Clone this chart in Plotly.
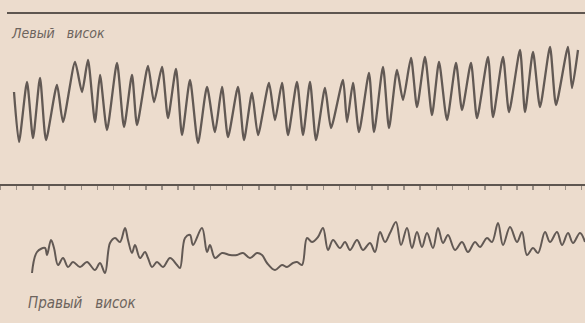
import plotly.graph_objects as go

# Left temple (top trace): time (px-scale units) and amplitude
left_t = [14, 19, 27, 33, 40, 46, 57, 63, 75, 82, 88, 95, 100, 107, 117, 124, 132, 137, 148, 154,
          162, 168, 176, 182, 190, 198, 207, 215, 222, 228, 238, 244, 252, 258, 269, 275, 282, 288,
          297, 303, 310, 316, 325, 331, 343, 347, 353, 359, 369, 374, 383, 389, 397, 403, 411, 417,
          425, 432, 439, 447, 456, 462, 471, 477, 488, 493, 503, 509, 520, 525, 533, 540, 550, 556,
          568, 572, 578]
left_y = [92, 142, 82, 138, 78, 140, 85, 122, 62, 92, 60, 122, 75, 130, 63, 127, 75, 125, 66, 102,
          67, 118, 69, 135, 80, 143, 87, 132, 87, 137, 87, 140, 93, 135, 83, 120, 83, 135,
          82, 135, 82, 140, 88, 128, 80, 122, 83, 132, 73, 132, 67, 128, 70, 100, 58, 107,
          57, 115, 62, 120, 63, 110, 63, 118, 57, 117, 57, 112, 50, 112, 52, 107, 47, 105,
          47, 88, 50]
left_amp = [100 - v for v in left_y]

# Right temple (bottom trace)
right_t = [32, 37, 45, 47, 51, 54, 58, 63, 68, 73, 80, 87, 95, 100, 105, 110, 115, 120, 125, 128,
           132, 135, 140, 145, 148, 152, 157, 163, 170, 177, 180, 185, 190, 193, 202, 207, 210, 215,
           222, 230, 237, 243, 250, 257, 262, 267, 275, 282, 287, 293, 297, 302, 307, 312, 318, 323,
           328, 333, 340, 345, 350, 357, 363, 370, 375, 380, 385, 390, 396, 401, 407, 412, 417, 422,
           427, 433, 438, 443, 448, 455, 462, 468, 475, 480, 487, 492, 498, 503, 510, 517, 522, 527,
           533, 538, 545, 550, 557, 562, 568, 573, 580, 585]
right_y = [273, 252, 248, 255, 240, 248, 265, 258, 267, 262, 267, 262, 270, 263, 273, 243, 238, 242, 228, 240,
           253, 245, 258, 252, 258, 267, 262, 267, 258, 265, 268, 238, 235, 245, 228, 252, 245, 258,
           253, 255, 255, 253, 258, 253, 255, 263, 270, 265, 267, 263, 262, 265, 238, 242, 237, 228,
           250, 240, 248, 242, 250, 240, 250, 243, 252, 232, 242, 233, 222, 245, 228, 248, 232, 247,
           233, 248, 228, 243, 235, 250, 242, 252, 242, 247, 238, 242, 223, 245, 227, 242, 232, 255,
           248, 253, 232, 242, 232, 245, 233, 243, 233, 242]
right_amp = [255 - v for v in right_y]

# Time marks
tick_start = 16.7
tick_step = 16.14

labels = ["Левый   висок", "Правый   висок"]

W, H = 585, 323
ink = "#625954"
bg = "#ecdccd"

fig = go.Figure()
fig.add_trace(go.Scatter(x=left_t, y=left_amp, mode="lines", yaxis="y",
                         line=dict(color=ink, width=2.3, shape="spline", smoothing=0.6),
                         hoverinfo="skip", showlegend=False))
fig.add_trace(go.Scatter(x=right_t, y=right_amp, mode="lines", yaxis="y2",
                         line=dict(color=ink, width=2.0, shape="spline", smoothing=1.0),
                         hoverinfo="skip", showlegend=False))

fig.update_layout(
    width=W, height=H,
    margin=dict(l=0, r=0, t=0, b=0),
    paper_bgcolor=bg, plot_bgcolor=bg,
    xaxis=dict(range=[0, W], domain=[0, 1], anchor="free", position=1 - 185 / H,
               showgrid=False, zeroline=False, showline=True, linecolor="#5e5650", linewidth=2,
               ticks="outside", ticklen=4, tickwidth=1.5, tickcolor="#9a8f86",
               tick0=tick_start, dtick=tick_step, showticklabels=False),
    yaxis=dict(domain=[1 - 145 / H, 1 - 45 / H], range=[-45, 55], visible=False, anchor="x"),
    yaxis2=dict(domain=[1 - 290 / H, 1 - 205 / H], range=[-35, 50], visible=False, anchor="x"),
    shapes=[dict(type="line", xref="paper", yref="paper", x0=7 / W, x1=1,
                 y0=1 - 13 / H, y1=1 - 13 / H, line=dict(color="#5e5650", width=1.8))],
    annotations=[
        dict(text=labels[0], xref="paper", yref="paper", x=9 / W, y=1 - 33 / H,
             xanchor="left", yanchor="middle", showarrow=False,
             font=dict(family="DejaVu Sans Condensed, Liberation Sans Narrow, sans-serif",
                       size=14, color="#6d645d", style="italic")),
        dict(text=labels[1], xref="paper", yref="paper", x=26 / W, y=1 - 303 / H,
             xanchor="left", yanchor="middle", showarrow=False,
             font=dict(family="DejaVu Sans Condensed, Liberation Sans Narrow, sans-serif",
                       size=15, color="#6d645d", style="italic")),
    ],
)

fig.write_html("out.html", config={"displayModeBar": False, "staticPlot": True},
               post_script="document.body.style.margin='0';document.body.style.background='#ecdccd';")
